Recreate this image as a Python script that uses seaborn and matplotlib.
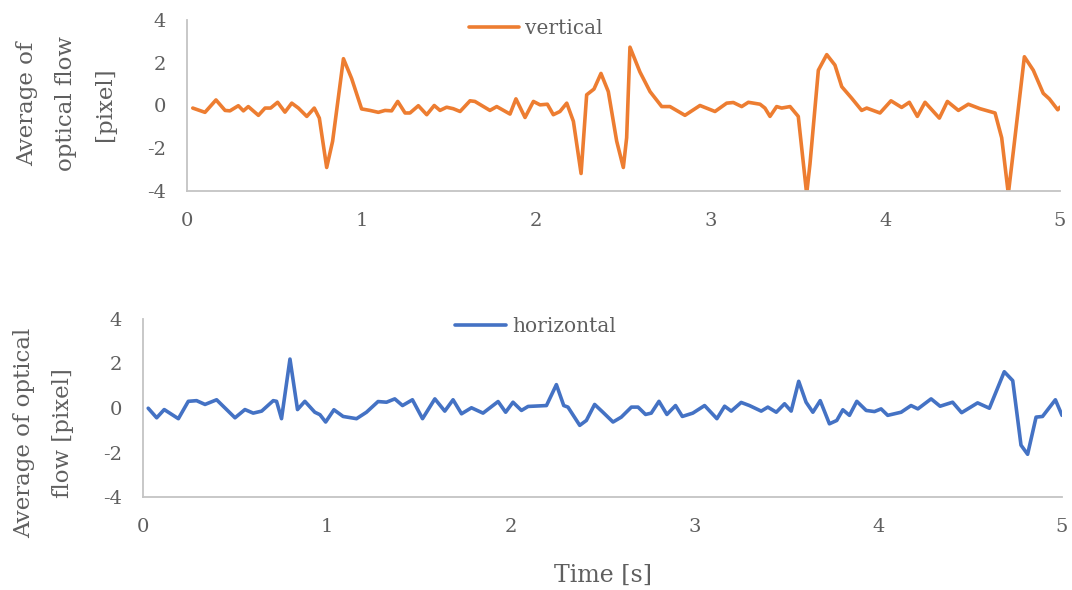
import matplotlib
matplotlib.use("Agg")
import matplotlib.pyplot as plt
import seaborn as sns

# Time stamps [s] and mean optical flow [pixel] of the vertical component
t_vertical = [0.033, 0.103, 0.166, 0.218, 0.246, 0.294, 0.323, 0.351, 0.409, 0.447,
              0.479, 0.519, 0.561, 0.600, 0.638, 0.686, 0.729, 0.758, 0.800, 0.834,
              0.896, 0.943, 1.000, 1.048, 1.096, 1.134, 1.172, 1.207, 1.249, 1.277,
              1.325, 1.373, 1.416, 1.449, 1.487, 1.525, 1.564, 1.621, 1.649, 1.735,
              1.774, 1.850, 1.884, 1.936, 1.984, 2.022, 2.064, 2.098, 2.136, 2.175,
              2.213, 2.257, 2.289, 2.331, 2.371, 2.413, 2.461, 2.499, 2.518, 2.537,
              2.594, 2.652, 2.719, 2.766, 2.852, 2.938, 3.024, 3.091, 3.129, 3.177,
              3.215, 3.282, 3.310, 3.339, 3.377, 3.406, 3.454, 3.501, 3.549, 3.568,
              3.616, 3.664, 3.711, 3.750, 3.807, 3.864, 3.893, 3.969, 4.032, 4.093,
              4.137, 4.183, 4.227, 4.309, 4.355, 4.418, 4.475, 4.542, 4.628, 4.666,
              4.704, 4.733, 4.796, 4.847, 4.904, 4.939, 4.987, 5.000]
flow_vertical = [-0.12, -0.32, 0.26, -0.23, -0.25, -0.01, -0.25, -0.05, -0.46, -0.12,
                 -0.12, 0.15, -0.31, 0.11, -0.12, -0.51, -0.12, -0.59, -2.90, -1.67,
                 2.19, 1.26, -0.16, -0.23, -0.32, -0.23, -0.25, 0.19, -0.35, -0.35,
                 -0.01, -0.43, 0.00, -0.23, -0.08, -0.15, -0.28, 0.22, 0.19, -0.23,
                 -0.05, -0.40, 0.31, -0.56, 0.19, 0.03, 0.06, -0.43, -0.28, 0.11,
                 -0.74, -3.18, 0.50, 0.77, 1.50, 0.65, -1.67, -2.90, -1.51, 2.73,
                 1.57, 0.65, -0.05, -0.05, -0.46, 0.00, -0.28, 0.11, 0.14, -0.05,
                 0.15, 0.06, -0.12, -0.51, -0.05, -0.12, -0.05, -0.51, -4.13, -2.74,
                 1.65, 2.38, 1.89, 0.88, 0.34, -0.23, -0.12, -0.35, 0.22, -0.09,
                 0.15, -0.51, 0.15, -0.59, 0.19, -0.23, 0.06, -0.15, -0.35, -1.51,
                 -4.13, -2.13, 2.28, 1.65, 0.57, 0.31, -0.20, -0.08]

# Time stamps [s] and mean optical flow [pixel] of the horizontal component
t_horizontal = [0.030, 0.076, 0.117, 0.194, 0.248, 0.293, 0.339, 0.402, 0.502, 0.556,
                0.601, 0.647, 0.710, 0.728, 0.755, 0.801, 0.842, 0.882, 0.936, 0.964,
                0.995, 1.040, 1.090, 1.163, 1.217, 1.280, 1.326, 1.371, 1.413, 1.467,
                1.522, 1.589, 1.643, 1.688, 1.734, 1.788, 1.851, 1.933, 1.974, 2.014,
                2.060, 2.096, 2.196, 2.250, 2.290, 2.313, 2.377, 2.413, 2.458, 2.503,
                2.558, 2.603, 2.658, 2.694, 2.735, 2.766, 2.808, 2.851, 2.898, 2.935,
                2.992, 3.056, 3.123, 3.165, 3.201, 3.255, 3.300, 3.364, 3.400, 3.446,
                3.491, 3.527, 3.568, 3.608, 3.645, 3.685, 3.735, 3.775, 3.808, 3.844,
                3.884, 3.935, 3.980, 4.016, 4.052, 4.125, 4.179, 4.216, 4.288, 4.337,
                4.405, 4.454, 4.541, 4.605, 4.686, 4.732, 4.777, 4.813, 4.859, 4.894,
                4.964, 5.000]
flow_horizontal = [-0.01, -0.44, -0.07, -0.48, 0.30, 0.33, 0.16, 0.37, -0.44, -0.07,
                   -0.23, -0.14, 0.33, 0.30, -0.48, 2.20, -0.07, 0.30, -0.19, -0.30,
                   -0.63, -0.08, -0.38, -0.48, -0.19, 0.29, 0.26, 0.41, 0.11, 0.37,
                   -0.48, 0.41, -0.14, 0.37, -0.26, 0.01, -0.23, 0.29, -0.19, 0.26,
                   -0.11, 0.07, 0.11, 1.05, 0.11, 0.04, -0.78, -0.56, 0.16, -0.19,
                   -0.63, -0.41, 0.04, 0.04, -0.29, -0.23, 0.30, -0.29, 0.11, -0.38,
                   -0.23, 0.11, -0.48, 0.08, -0.14, 0.25, 0.11, -0.14, 0.04, -0.19,
                   0.19, -0.14, 1.20, 0.26, -0.19, 0.33, -0.71, -0.56, -0.08, -0.33,
                   0.30, -0.11, -0.16, -0.04, -0.33, -0.19, 0.11, -0.04, 0.41, 0.08,
                   0.26, -0.21, 0.23, -0.01, 1.63, 1.23, -1.67, -2.08, -0.41, -0.38,
                   0.37, -0.33]

x_ticks = [0, 1, 2, 3, 4, 5]
y_ticks = [-4, -2, 0, 2, 4]

ORANGE = "#ED7D31"
BLUE = "#4472C4"
TEXT = "#5f5f5f"
AXIS = "#C4C4C4"

sns.set_theme(style="white")
plt.rcParams["font.family"] = ["DejaVu Serif"]
plt.rcParams["axes.unicode_minus"] = False

fig = plt.figure(figsize=(10.72, 5.90), dpi=100)
ax_v = fig.add_axes([187 / 1072, 1 - 191 / 590, 873 / 1072, 171 / 590])
ax_h = fig.add_axes([142.7 / 1072, 1 - 497 / 590, 919.3 / 1072, 178 / 590])

sns.lineplot(x=t_vertical, y=flow_vertical, ax=ax_v, color=ORANGE,
             linewidth=2.6, label="vertical", sort=False)
sns.lineplot(x=t_horizontal, y=flow_horizontal, ax=ax_h, color=BLUE,
             linewidth=2.6, label="horizontal", sort=False)

for ax in (ax_v, ax_h):
    ax.set_xlim(0, 5)
    ax.set_ylim(-4, 4)
    ax.set_xticks(x_ticks)
    ax.set_xticklabels([str(v) for v in x_ticks])
    ax.set_yticks(y_ticks)
    ax.set_yticklabels([str(v) for v in y_ticks])
    ax.tick_params(axis="both", length=0, pad=15, labelsize=14, labelcolor=TEXT)
    for side in ("top", "right"):
        ax.spines[side].set_visible(False)
    for side in ("left", "bottom"):
        ax.spines[side].set_color(AXIS)
        ax.spines[side].set_linewidth(1.3)
    ax.set_xlabel("")
    ax.set_ylabel("")
    for line in ax.get_lines():
        line.set_solid_joinstyle("round")
        line.set_solid_capstyle("round")

ax_v.legend(loc="center", bbox_to_anchor=(536 / 1072, 1 - 29 / 590),
            bbox_transform=fig.transFigure, frameon=False, fontsize=14.5,
            handlelength=2.5, handletextpad=0.3, labelcolor=TEXT)
ax_h.legend(loc="center", bbox_to_anchor=(535.5 / 1072, 1 - 327 / 590),
            bbox_transform=fig.transFigure, frameon=False, fontsize=14.5,
            handlelength=2.5, handletextpad=0.3, labelcolor=TEXT)

fig.text(66 / 1072, 1 - 104 / 590, "Average of\noptical flow\n[pixel]",
         rotation=90, ha="center", va="center", multialignment="center",
         fontsize=16.5, color=TEXT, linespacing=2.0)
fig.text(44 / 1072, 1 - 433 / 590, "Average of optical\nflow [pixel]",
         rotation=90, ha="center", va="center", multialignment="center",
         fontsize=16.5, color=TEXT, linespacing=2.0)
fig.text(603 / 1072, 1 - 575 / 590, "Time [s]", ha="center", va="center",
         fontsize=17, color=TEXT)

fig.savefig("out.png", dpi=100, facecolor="white")
